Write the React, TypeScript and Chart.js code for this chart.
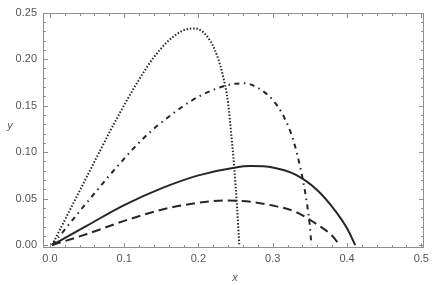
import React, { useEffect, useRef } from "react";
import { Chart, registerables } from "chart.js";

Chart.register(...registerables);

const xTicks = [0, 0.1, 0.2, 0.3, 0.4, 0.5];
const yTicks = [0, 0.05, 0.1, 0.15, 0.2, 0.25];

const dottedX = [0.003, 0.05, 0.09, 0.12, 0.14, 0.16, 0.18, 0.195, 0.21, 0.222, 0.232, 0.24, 0.244, 0.248, 0.252, 0.255];
const dottedY = [0, 0.074, 0.136, 0.178, 0.202, 0.22, 0.231, 0.233, 0.226, 0.21, 0.185, 0.152, 0.12, 0.085, 0.04, 0];

const dashDotX = [0.003, 0.05, 0.1, 0.13, 0.16, 0.19, 0.22, 0.245, 0.262, 0.28, 0.3, 0.315, 0.328, 0.338, 0.345, 0.35, 0.352];
const dashDotY = [0, 0.046, 0.093, 0.118, 0.138, 0.155, 0.167, 0.173, 0.174, 0.169, 0.156, 0.138, 0.112, 0.08, 0.05, 0.02, 0];

const solidX = [0.003, 0.05, 0.1, 0.15, 0.2, 0.25, 0.27, 0.3, 0.33, 0.36, 0.385, 0.4, 0.411];
const solidY = [0, 0.021, 0.043, 0.061, 0.075, 0.0835, 0.085, 0.0835, 0.076, 0.059, 0.036, 0.018, 0];

const dashedX = [0.003, 0.05, 0.1, 0.15, 0.2, 0.237, 0.27, 0.3, 0.33, 0.36, 0.38, 0.39];
const dashedY = [0, 0.012, 0.026, 0.038, 0.0455, 0.048, 0.0465, 0.0425, 0.036, 0.022, 0.01, 0];

const pts = (xs: number[], ys: number[]) => xs.map((x, i) => ({ x, y: ys[i] }));

const FONT = "'Liberation Sans', Arial, sans-serif";
const LINE = "#262626";

const framePlugin = {
  id: "frame",
  afterDraw(chart: any) {
    const { ctx, chartArea, scales } = chart;
    const xs = scales.x;
    const ys = scales.y;
    const l = Math.round(chartArea.left) + 0.5;
    const r = Math.round(chartArea.right) + 0.5;
    const t = Math.round(chartArea.top) + 0.5;
    const b = Math.round(chartArea.bottom) + 0.5;
    ctx.save();
    ctx.strokeStyle = "#8f8f8f";
    ctx.lineWidth = 1;
    ctx.strokeRect(l, t, r - l, b - t);
    ctx.beginPath();
    for (let i = 0; i <= 25; i++) {
      const v = i * 0.02;
      const p = Math.round(xs.getPixelForValue(v)) + 0.5;
      const len = i % 5 === 0 ? 4.5 : 2.5;
      ctx.moveTo(p, b);
      ctx.lineTo(p, b - len);
      ctx.moveTo(p, t);
      ctx.lineTo(p, t + len);
    }
    for (let i = 0; i <= 25; i++) {
      const v = i * 0.01;
      const p = Math.round(ys.getPixelForValue(v)) + 0.5;
      const len = i % 5 === 0 ? 4.5 : 2.5;
      ctx.moveTo(l, p);
      ctx.lineTo(l + len, p);
      ctx.moveTo(r, p);
      ctx.lineTo(r - len, p);
    }
    ctx.stroke();
    ctx.fillStyle = "#555555";
    ctx.font = `italic 11px ${FONT}`;
    ctx.textAlign = "center";
    ctx.textBaseline = "middle";
    ctx.fillText("y", 10, 126);
    ctx.fillText("x", 235, 278);
    ctx.restore();
  },
};

export default function App() {
  const ref = useRef<HTMLCanvasElement | null>(null);
  useEffect(() => {
    if (!ref.current) return;
    const common = { showLine: true, pointRadius: 0, borderColor: LINE, fill: false, tension: 0.4, cubicInterpolationMode: "monotone" as const };
    const chart = new Chart(ref.current, {
      type: "scatter",
      data: {
        datasets: [
          { ...common, data: pts(dottedX, dottedY), borderWidth: 2, borderDash: [1.5, 1.8] },
          { ...common, data: pts(dashDotX, dashDotY), borderWidth: 2, borderDash: [5, 4.5, 1.5, 4.5] },
          { ...common, data: pts(solidX, solidY), borderWidth: 2 },
          { ...common, data: pts(dashedX, dashedY), borderWidth: 2, borderDash: [9, 5] },
        ],
      },
      options: {
        animation: false,
        responsive: false,
        plugins: { legend: { display: false }, tooltip: { enabled: false } },
        layout: { padding: { top: 7, right: 8, left: 0, bottom: 0 } },
        scales: {
          x: {
            type: "linear",
            min: -0.0093,
            max: 0.5023,
            grid: { display: false, drawTicks: false },
            border: { display: false },
            afterBuildTicks: (s: any) => { s.ticks = xTicks.map((v) => ({ value: v })); },
            afterFit: (s: any) => { s.height = 38.5; },
            ticks: { padding: 6, color: "#555555", font: { family: FONT, size: 11 }, maxRotation: 0, callback: (v: any) => Number(v).toFixed(1) },
          },
          y: {
            type: "linear",
            min: -0.0015,
            max: 0.25,
            grid: { display: false, drawTicks: false },
            border: { display: false },
            afterBuildTicks: (s: any) => { s.ticks = yTicks.map((v) => ({ value: v })); },
            afterFit: (s: any) => { s.width = 43; },
            ticks: { padding: 6, color: "#555555", font: { family: FONT, size: 11 }, callback: (v: any) => Number(v).toFixed(2) },
          },
        },
      },
      plugins: [framePlugin],
    });
    return () => chart.destroy();
  }, []);
  return (
    <div style={{ position: "absolute", left: 0, top: 0, width: 435, height: 285, background: "#fff" }}>
      <canvas ref={ref} width={435} height={285} style={{ display: "block" }} />
    </div>
  );
}
